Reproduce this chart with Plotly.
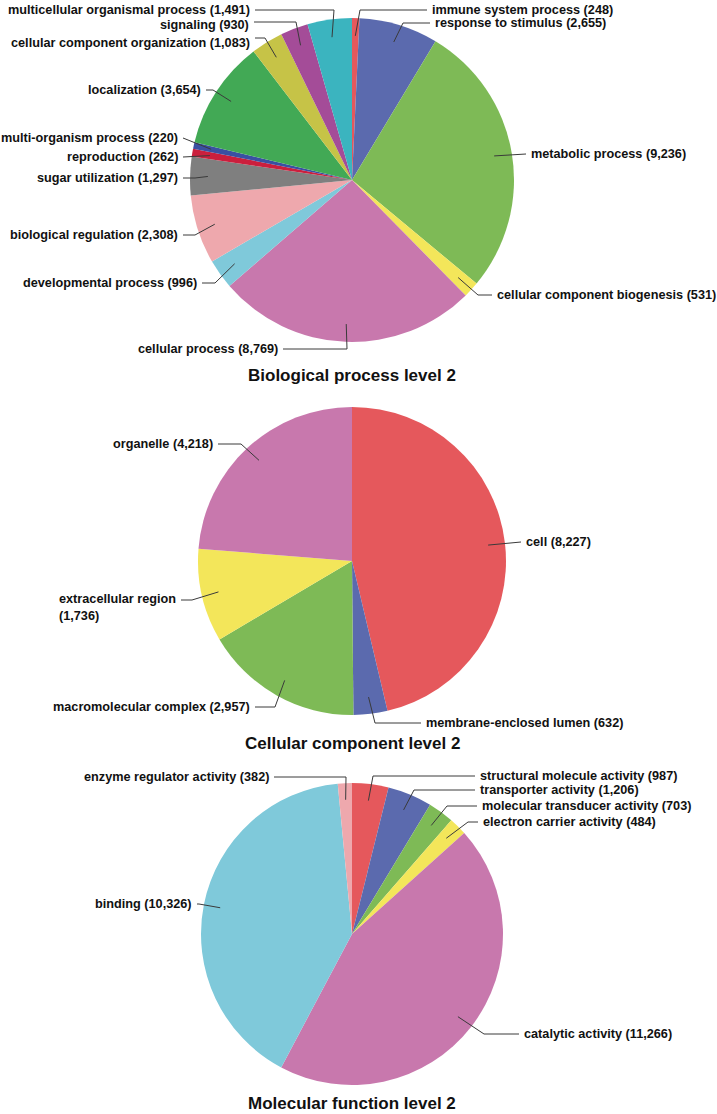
import math
import plotly.graph_objects as go

W, H = 717, 1114

# ---------------- data ----------------
bp_labels = ["immune system process", "response to stimulus", "metabolic process",
             "cellular component biogenesis", "cellular process", "developmental process",
             "biological regulation", "sugar utilization", "reproduction",
             "multi-organism process", "localization", "cellular component organization",
             "signaling", "multicellular organismal process"]
bp_values = [248, 2655, 9236, 531, 8769, 996, 2308, 1297, 262, 220, 3654, 1083, 930, 1491]

cc_labels = ["cell", "membrane-enclosed lumen", "macromolecular complex",
             "extracellular region", "organelle"]
cc_values = [8227, 632, 2957, 1736, 4218]

mf_labels = ["structural molecule activity", "transporter activity",
             "molecular transducer activity", "electron carrier activity",
             "catalytic activity", "binding", "enzyme regulator activity"]
mf_values = [987, 1206, 703, 484, 11266, 10326, 382]

titles = ["Biological process level 2", "Cellular component level 2",
          "Molecular function level 2"]

# ---------------- styles ----------------
RED, BLUE, GREEN, YELLOW = "#E5585C", "#5B6AAE", "#7EBA56", "#F3E65A"
MAUVE, CYAN, PINK, GRAY = "#C878AD", "#7FC9DA", "#EEA8AD", "#7F7F7F"
CRIMSON, DBLUE, LGREEN, OLIVE = "#CB1F3D", "#3A50A2", "#42A955", "#C6C347"
PURPLE, TEAL = "#A44C98", "#3BB4BF"

bp_colors = [RED, BLUE, GREEN, YELLOW, MAUVE, CYAN, PINK, GRAY, CRIMSON, DBLUE,
             LGREEN, OLIVE, PURPLE, TEAL]
cc_colors = [RED, BLUE, GREEN, YELLOW, MAUVE]
mf_colors = [RED, BLUE, GREEN, YELLOW, MAUVE, CYAN, PINK]

# pie geometry (pixels): center x, center y, radius
pies = [(352, 180, 162), (352, 561, 154), (352, 934, 151)]
title_y = [375, 743, 1103]

# label layout: (text x, text y, anchor side, elbow x, line y)
bp_lay = [(430, 10, "l", 360, None), (433, 23, "l", 403, None), (529, 154, "l", None, None),
          (495, 295, "l", 478, None), (280, 349, "r", 347, None), (199, 283, "r", 215, None),
          (180, 235, "r", 195, None), (180, 178, "r", 195, None), (180, 157, "r", None, None),
          (180, 138, "r", None, None), (203, 90, "r", 213, None), (252, 43, "r", 265, 38),
          (251, 25, "r", 296, 22), (252, 10, "r", 334, None)]
cc_lay = [(524, 542, "l", None, None), (424, 723, "l", 375, None), (252, 707, "r", 275, None),
          (178, 607, "r", 192, 600), (215, 444, "r", 241, None)]
mf_lay = [(478, 776, "l", 373, None), (478, 790, "l", 414, None), (480, 806, "l", 447, None),
          (481, 822, "l", 468, None), (522, 1034, "l", 484, None), (194, 904, "r", 199, None),
          (271, 777, "r", 346, None)]

FONT = "Liberation Sans, Arial, sans-serif"
LINE_C = "#3a3a3a"


def px(x):
    return x / W


def py(y):
    return 1 - y / H


fig = go.Figure()
annotations = []
shapes = []

charts = [(bp_labels, bp_values, bp_colors, bp_lay),
          (cc_labels, cc_values, cc_colors, cc_lay),
          (mf_labels, mf_values, mf_colors, mf_lay)]

for k, (labels, values, colors, lay) in enumerate(charts):
    cx, cy, r = pies[k]
    fig.add_trace(go.Pie(
        labels=labels, values=values, sort=False, direction="clockwise", rotation=0,
        marker=dict(colors=colors, line=dict(width=0)),
        textinfo="none", hoverinfo="label+value", showlegend=False,
        domain=dict(x=[px(cx - r), px(cx + r)], y=[py(cy + r), py(cy - r)]),
    ))
    total = sum(values)
    cum = 0
    for i, (lab, val) in enumerate(zip(labels, values)):
        mid = (cum + val / 2) / total * 2 * math.pi
        cum += val
        tx = cx + 0.89 * r * math.sin(mid)
        ty = cy - 0.89 * r * math.cos(mid)
        lx, ly, side, ex, liney = lay[i]
        text = f"{lab} ({val:,})"
        if lab == "extracellular region":
            text = f"{lab}<br>({val:,})"
        annotations.append(dict(
            x=px(lx), y=py(ly), xref="paper", yref="paper", text=text,
            showarrow=False, xanchor="left" if side == "l" else "right",
            yanchor="middle", align="left",
            font=dict(family=FONT, size=12.7, color="#111111", weight="bold"),
        ))
        yl = ly if liney is None else liney
        sx = lx - 3 if side == "l" else lx + 3
        path = f"M {px(sx)},{py(yl)}"
        if ex is not None:
            path += f" L {px(ex)},{py(yl)}"
        path += f" L {px(tx)},{py(ty)}"
        shapes.append(dict(type="path", path=path, xref="paper", yref="paper",
                           line=dict(color=LINE_C, width=1)))
    annotations.append(dict(
        x=px(cx), y=py(title_y[k]), xref="paper", yref="paper", text=titles[k],
        showarrow=False, xanchor="center", yanchor="middle",
        font=dict(family=FONT, size=17, color="#111111", weight="bold"),
    ))

fig.update_layout(
    width=W, height=H, margin=dict(l=0, r=0, t=0, b=0),
    paper_bgcolor="white", plot_bgcolor="white",
    annotations=annotations, shapes=shapes, showlegend=False,
)

fig.write_html(
    "out.html",
    config={"displayModeBar": False},
    post_script="document.body.style.margin='0px';document.body.style.overflow='hidden';",
)
